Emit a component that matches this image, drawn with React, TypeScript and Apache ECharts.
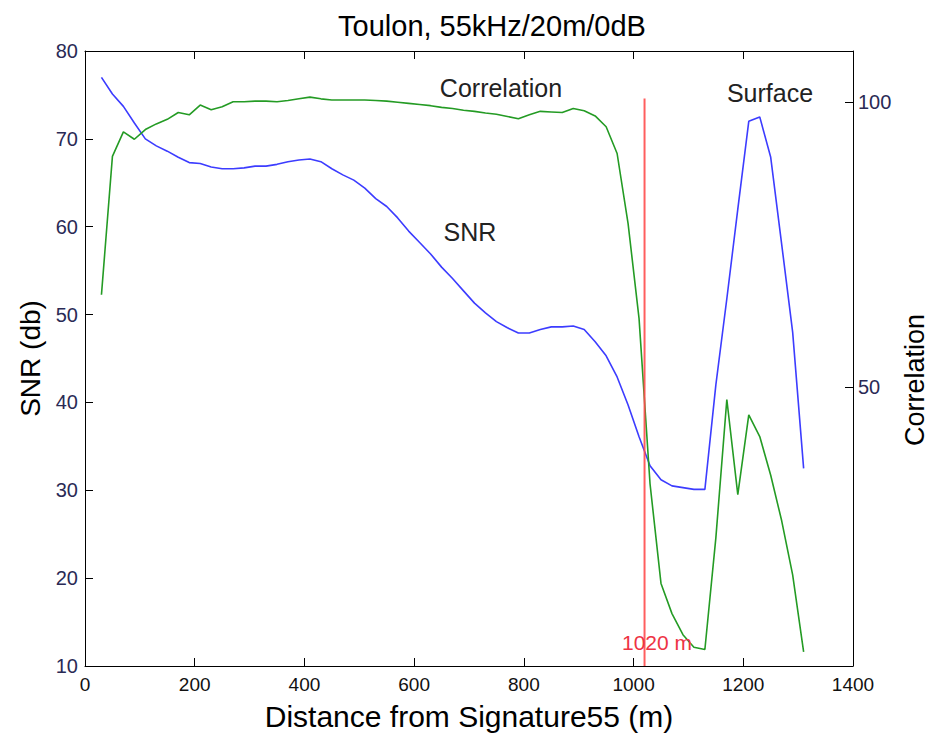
import React, { useEffect, useRef } from "react";
import * as echarts from "echarts";

const distance = [
  30, 50, 70, 90, 110, 130, 150, 170, 190, 210, 230, 250, 270, 290, 310, 330,
  350, 370, 390, 410, 430, 450, 470, 490, 510, 530, 550, 570, 590, 610, 630,
  650, 670, 690, 710, 730, 750, 770, 790, 810, 830, 850, 870, 890, 910, 930,
  950, 970, 990, 1010, 1030, 1050, 1070, 1090, 1110, 1130, 1150, 1170, 1190,
  1210, 1230, 1250, 1270, 1290, 1310,
];

const snr = [
  77.0, 75.1, 73.7, 71.8, 70.0, 69.2, 68.6, 67.9, 67.3, 67.2, 66.8, 66.6, 66.6,
  66.7, 66.9, 66.9, 67.1, 67.4, 67.6, 67.7, 67.4, 66.6, 65.9, 65.3, 64.4, 63.2,
  62.3, 61.0, 59.5, 58.2, 56.9, 55.4, 54.1, 52.7, 51.3, 50.2, 49.2, 48.5, 47.9,
  47.9, 48.3, 48.6, 48.6, 48.7, 48.3, 46.9, 45.3, 42.9, 39.7, 36.1, 32.8, 31.2,
  30.5, 30.3, 30.1, 30.1, 42.0, 51.8, 62.0, 72.0, 72.5, 67.9, 58.0, 48.0, 32.5,
];

const correlation = [
  66.2, 90.5, 94.8, 93.5, 95.2, 96.2, 97.0, 98.2, 97.8, 99.5, 98.7, 99.2, 100.1,
  100.1, 100.2, 100.2, 100.1, 100.3, 100.6, 100.9, 100.6, 100.4, 100.4, 100.4,
  100.4, 100.3, 100.2, 100.0, 99.8, 99.6, 99.4, 99.1, 98.9, 98.6, 98.4, 98.1,
  97.9, 97.5, 97.1, 97.8, 98.4, 98.3, 98.2, 98.9, 98.5, 97.6, 95.7, 91.0, 78.7,
  62.0, 33.0, 15.5, 10.2, 6.5, 4.3, 3.9, 23.5, 47.8, 31.1, 45.1, 41.3, 34.5,
  26.5, 17.0, 3.5,
];

const markerX = [1020, 1020];
const markerY = [10, 74.6];

const xTicks = [0, 1400, 200];
const snrTicks = [10, 80, 10];
const corrRange = [1, 109];
const corrTickValues = [50, 100];

const FONT = "'Liberation Sans', Arial, Helvetica, sans-serif";

export default function App() {
  const ref = useRef<HTMLDivElement>(null);

  useEffect(() => {
    if (!ref.current) return;
    const chart = echarts.init(ref.current, null, { renderer: "svg" });

    const snrData = distance.map((d, i) => [d, snr[i]]);
    const corrData = distance.map((d, i) => [d, correlation[i]]);
    const markerData = markerX.map((d, i) => [d, markerY[i]]);

    const axisLine = { show: true, onZero: false, lineStyle: { color: "#000", width: 1 } };
    const tickStyle = { show: true, inside: true, length: 8, lineStyle: { color: "#000", width: 1 } };
    const plain = (v: number) => String(v);

    chart.setOption({
      animation: false,
      backgroundColor: "#fff",
      textStyle: { fontFamily: FONT },
      grid: { left: 85, right: 78, top: 51, bottom: 69, containLabel: false },
      xAxis: [
        {
          type: "value",
          min: xTicks[0],
          max: xTicks[1],
          interval: xTicks[2],
          position: "bottom",
          name: "Distance from Signature55 (m)",
          nameLocation: "middle",
          nameGap: 35,
          nameTextStyle: { fontSize: 30, color: "#000", fontFamily: FONT },
          axisLine,
          axisTick: tickStyle,
          axisLabel: { fontSize: 19, color: "#111", margin: 9, fontFamily: FONT, formatter: plain },
          splitLine: { show: false },
        },
        {
          type: "value",
          min: xTicks[0],
          max: xTicks[1],
          interval: xTicks[2],
          position: "top",
          axisLine,
          axisTick: tickStyle,
          axisLabel: { show: false },
          splitLine: { show: false },
        },
      ],
      yAxis: [
        {
          type: "value",
          min: snrTicks[0],
          max: snrTicks[1],
          interval: snrTicks[2],
          position: "left",
          name: "SNR (db)",
          nameLocation: "middle",
          nameGap: 40,
          nameTextStyle: { fontSize: 28, color: "#000", fontFamily: FONT },
          axisLine,
          axisTick: tickStyle,
          axisLabel: { fontSize: 20, color: "#2a2a55", margin: 7, fontFamily: FONT, formatter: plain },
          splitLine: { show: false },
        },
        {
          type: "value",
          min: corrRange[0],
          max: corrRange[1],
          position: "right",
          axisLine,
          axisTick: { ...tickStyle, customValues: corrTickValues },
          axisLabel: {
            fontSize: 20,
            color: "#2a2a55",
            margin: 5,
            fontFamily: FONT,
            customValues: corrTickValues,
            formatter: plain,
          },
          splitLine: { show: false },
        },
      ],
      graphic: [
        {
          type: "text",
          x: 492,
          y: 26,
          style: {
            text: "Toulon, 55kHz/20m/0dB",
            fontSize: 29,
            fontFamily: FONT,
            fill: "#000",
            textAlign: "center",
            textVerticalAlign: "middle",
          },
        },
        {
          type: "text",
          x: 915,
          y: 380,
          rotation: Math.PI / 2,
          style: {
            text: "Correlation",
            fontSize: 27,
            fontFamily: FONT,
            fill: "#000",
            textAlign: "center",
            textVerticalAlign: "middle",
          },
        },
        {
          type: "text",
          x: 501,
          y: 88,
          style: {
            text: "Correlation",
            fontSize: 25,
            fontFamily: FONT,
            fill: "#222",
            textAlign: "center",
            textVerticalAlign: "middle",
          },
        },
        {
          type: "text",
          x: 470,
          y: 232,
          style: {
            text: "SNR",
            fontSize: 25,
            fontFamily: FONT,
            fill: "#222",
            textAlign: "center",
            textVerticalAlign: "middle",
          },
        },
        {
          type: "text",
          x: 770,
          y: 93,
          style: {
            text: "Surface",
            fontSize: 25,
            fontFamily: FONT,
            fill: "#222",
            textAlign: "center",
            textVerticalAlign: "middle",
          },
        },
        {
          type: "text",
          x: 657,
          y: 642,
          z: 100,
          style: {
            text: "1020 m",
            fontSize: 21,
            fontFamily: FONT,
            fill: "#ee3344",
            textAlign: "center",
            textVerticalAlign: "middle",
          },
        },
      ],
      series: [
        {
          name: "SNR",
          type: "line",
          xAxisIndex: 0,
          yAxisIndex: 0,
          data: snrData,
          showSymbol: false,
          lineStyle: { color: "#3c3cff", width: 1.6 },
          itemStyle: { color: "#3c3cff" },
          z: 2,
        },
        {
          name: "Correlation",
          type: "line",
          xAxisIndex: 0,
          yAxisIndex: 1,
          data: corrData,
          showSymbol: false,
          lineStyle: { color: "#249b24", width: 1.6 },
          itemStyle: { color: "#249b24" },
          z: 3,
        },
        {
          name: "1020 m",
          type: "line",
          xAxisIndex: 0,
          yAxisIndex: 0,
          data: markerData,
          showSymbol: false,
          lineStyle: { color: "#ff4d4d", width: 2, opacity: 0.9 },
          itemStyle: { color: "#ff4d4d" },
          z: 4,
        },
      ],
    });

    return () => chart.dispose();
  }, []);

  return (
    <div
      ref={ref}
      style={{ position: "fixed", left: 0, top: 0, width: 931, height: 736, background: "#fff" }}
    />
  );
}
